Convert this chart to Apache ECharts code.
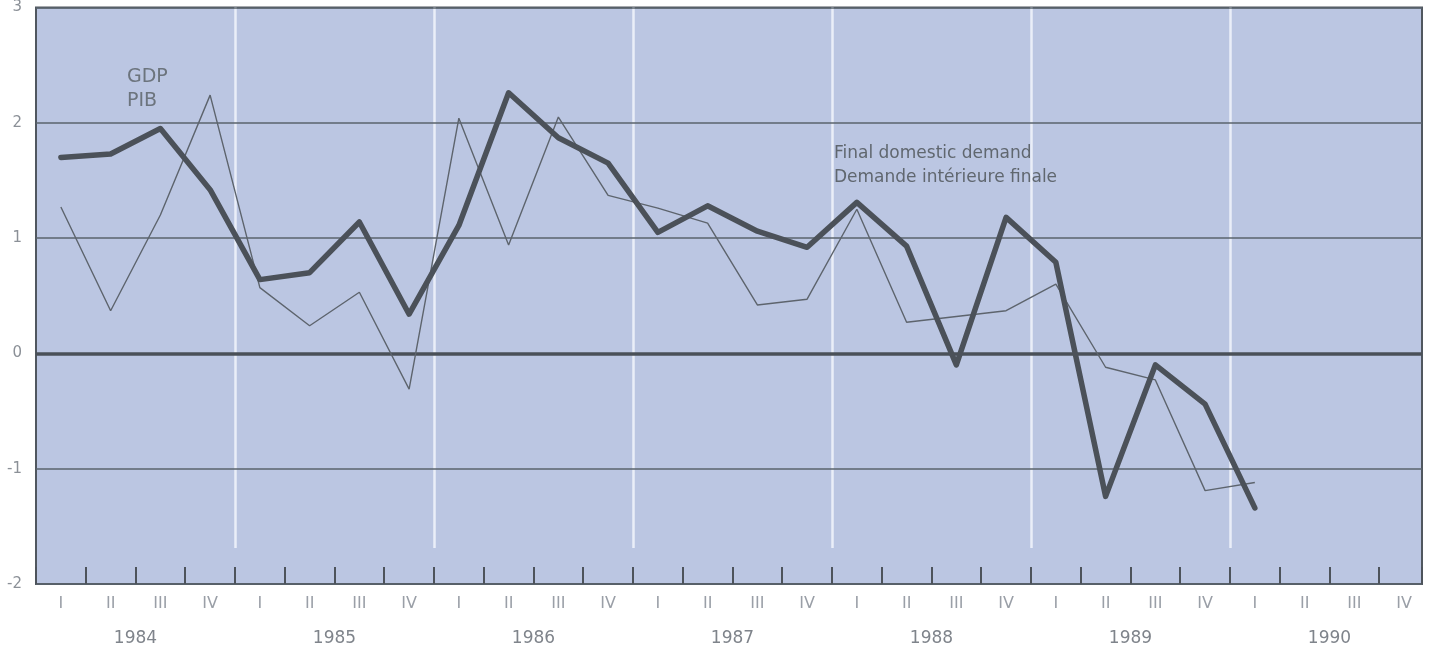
<!DOCTYPE html>
<html>
<head>
<meta charset="utf-8">
<script src="https://cdn.jsdelivr.net/npm/echarts@6/dist/echarts.min.js"></script>
<style>
html,body{margin:0;padding:0;background:#ffffff;}
#chart{width:1430px;height:655px;}
</style>
</head>
<body>
<div id="chart"></div>
<script>
// ---- data ----
const quarterLabels = ['I','II','III','IV','I','II','III','IV','I','II','III','IV','I','II','III','IV',
                       'I','II','III','IV','I','II','III','IV','I','II','III','IV'];
const yearLabels = ['1984','1985','1986','1987','1988','1989','1990'];
const yTickLabels = ['-2','-1','0','1','2','3'];
// GDP / PIB (thick line), 1984 I .. 1990 I
const gdp = [1.70, 1.73, 1.95, 1.42, 0.64, 0.70, 1.14, 0.34,
             1.11, 2.26, 1.87, 1.65, 1.05, 1.28, 1.06, 0.92,
             1.31, 0.93, -0.10, 1.18, 0.79, -1.24, -0.10, -0.44,
             -1.34];
// Final domestic demand / Demande intérieure finale (thin line)
const demand = [1.27, 0.37, 1.20, 2.24, 0.57, 0.24, 0.53, -0.31,
                2.04, 0.94, 2.05, 1.37, 1.26, 1.13, 0.42, 0.47,
                1.25, 0.27, 0.32, 0.37, 0.60, -0.12, -0.23, -1.19,
                -1.12];
const annotations = {
  gdp: 'GDP\nPIB',
  demand: 'Final domestic demand\nDemande intérieure finale'
};

// ---- layout ----
const FONT = 'DejaVu Sans';
const QW = 49.75;            // px per quarter
const PLOT_L = 36, PLOT_T = 7, PLOT_W = 1386, PLOT_H = 577;
const xMax = +(PLOT_W / QW).toFixed(2);

const chart = echarts.init(document.getElementById('chart'), null, {renderer: 'canvas'});

const option = {
  animation: false,
  backgroundColor: '#ffffff',
  grid: [
    {left: PLOT_L, top: PLOT_T, width: PLOT_W, height: PLOT_H, show: true,
     backgroundColor: '#bbc6e2', borderColor: '#50575f', borderWidth: 2, z: 0},
    {left: PLOT_L, top: PLOT_T, width: QW * quarterLabels.length, height: PLOT_H, show: false},
    {left: PLOT_L + 4 * QW, top: PLOT_T, width: 5 * 4 * QW, height: 541, show: false}
  ],
  xAxis: [
    {gridIndex: 0, type: 'value', min: 0, max: xMax, interval: 1, z: 3, position: 'bottom',
     axisLine: {show: false, onZero: false},
     axisTick: {show: true, inside: true, length: 17, lineStyle: {color: '#4d535b', width: 2}},
     axisLabel: {show: false}, splitLine: {show: false}},
    {gridIndex: 1, type: 'category', data: quarterLabels, boundaryGap: true, position: 'bottom',
     axisLine: {show: false, onZero: false}, axisTick: {show: false}, splitLine: {show: false},
     axisLabel: {show: true, interval: 0, margin: 12, fontFamily: FONT, fontSize: 16, color: '#9a9fa7'}},
    {gridIndex: 1, type: 'category', data: yearLabels, boundaryGap: true, position: 'bottom', offset: 35,
     axisLine: {show: false, onZero: false}, axisTick: {show: false}, splitLine: {show: false},
     axisLabel: {show: true, interval: 0, margin: 11, fontFamily: FONT, fontSize: 17, color: '#7f848b'}},
    {gridIndex: 2, type: 'value', min: 0, max: 5, interval: 1, z: 1,
     axisLine: {show: false, onZero: false}, axisTick: {show: false}, axisLabel: {show: false},
     splitLine: {show: true, lineStyle: {color: '#eaeef8', width: 2.5}}}
  ],
  yAxis: [
    {gridIndex: 0, type: 'value', min: -2, max: 3, interval: 1, z: 2,
     axisLine: {show: false, onZero: false}, axisTick: {show: false},
     axisLabel: {show: true, margin: 14, fontFamily: FONT, fontSize: 15, color: '#8b9097',
       formatter: (v) => yTickLabels[Math.round(v) + 2]},
     splitLine: {show: true, lineStyle: {color: '#5a636c', width: 1.5}}},
    {gridIndex: 1, type: 'value', min: 0, max: 1, show: false},
    {gridIndex: 2, type: 'value', min: 0, max: 1, show: false}
  ],
  series: [
    {name: 'Final domestic demand', type: 'line', xAxisIndex: 0, yAxisIndex: 0, z: 5,
     data: demand.map((v, i) => [i + 0.5, v]), symbol: 'none',
     lineStyle: {color: '#5d646d', width: 1.4}},
    {name: 'GDP', type: 'line', xAxisIndex: 0, yAxisIndex: 0, z: 6,
     data: gdp.map((v, i) => [i + 0.5, v]), symbol: 'none',
     lineStyle: {color: '#4b5159', width: 5.5, join: 'round', cap: 'round'},
     markLine: {silent: true, symbol: 'none', label: {show: false},
       lineStyle: {color: '#4a5058', width: 3.5, type: 'solid'},
       data: [{yAxis: 0}]}}
  ],
  graphic: [
    {type: 'text', left: 127, top: 65, silent: true, z: 10,
     style: {text: annotations.gdp, font: '19px "' + FONT + '"', lineHeight: 24, fill: '#6c747d'}},
    {type: 'text', left: 834, top: 142, silent: true, z: 10,
     style: {text: annotations.demand, font: '17px "' + FONT + '"', lineHeight: 24, fill: '#60676f'}}
  ]
};
chart.setOption(option);
</script>
</body>
</html>
